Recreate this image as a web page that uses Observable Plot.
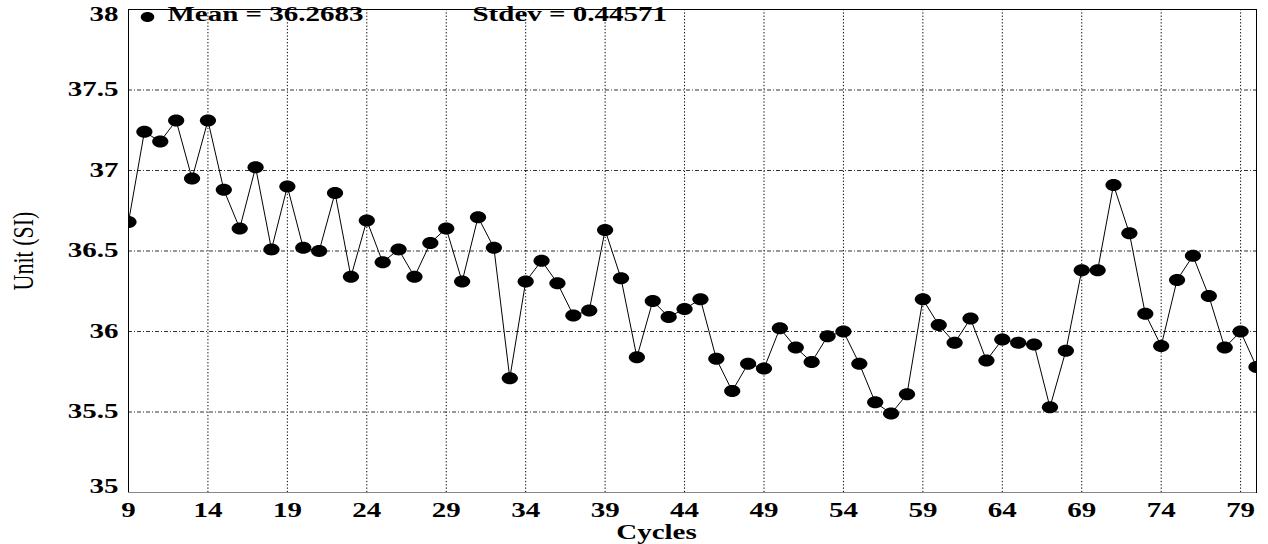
<!DOCTYPE html>
<html>
<head>
<meta charset="utf-8">
<script src="https://cdn.jsdelivr.net/npm/d3@7"></script>
<script src="https://cdn.jsdelivr.net/npm/@observablehq/plot@0.6"></script>
<style>
  html, body { margin: 0; padding: 0; background: white; }
</style>
</head>
<body>
<div id="chart"></div>
<script>
const cycles = [9,10,11,12,13,14,15,16,17,18,19,20,21,22,23,24,25,26,27,28,29,30,31,32,33,34,35,36,37,38,39,40,41,42,43,44,45,46,47,48,49,50,51,52,53,54,55,56,57,58,59,60,61,62,63,64,65,66,67,68,69,70,71,72,73,74,75,76,77,78,79,80];
const values = [36.68,37.24,37.18,37.31,36.95,37.31,36.88,36.64,37.02,36.51,
  36.90,36.52,36.50,36.86,36.34,36.69,36.43,36.51,36.34,36.55,
  36.64,36.31,36.71,36.52,35.71,36.31,36.44,36.30,36.10,36.13,
  36.63,36.33,35.84,36.19,36.09,36.14,36.20,35.83,35.63,35.80,
  35.77,36.02,35.90,35.81,35.97,36.00,35.80,35.56,35.49,35.61,
  36.20,36.04,35.93,36.08,35.82,35.95,35.93,35.92,35.53,35.88,
  36.38,36.38,36.91,36.61,36.11,35.91,36.32,36.47,36.22,35.90,
  36.00,35.78];
const xTicks = [9,14,19,24,29,34,39,44,49,54,59,64,69,74,79];
const yTicks = [35,35.5,36,36.5,37,37.5,38];
const yTicksInner = [35.5,36,36.5,37,37.5];
const legendLabels = ["Mean = 36.2683", "Stdev = 0.44571"];
const xLabel = ["Cycles"];
const yLabel = ["Unit (SI)"];

const data = cycles.map((c, i) => ({cycle: c, value: values[i]}));

const ellipse = {
  draw(context, size) {
    const r = Math.sqrt(size / Math.PI);
    const rx = r * 1.35, ry = r, k = 0.5523;
    context.moveTo(rx, 0);
    context.bezierCurveTo(rx, ry * k, rx * k, ry, 0, ry);
    context.bezierCurveTo(-rx * k, ry, -rx, ry * k, -rx, 0);
    context.bezierCurveTo(-rx, -ry * k, -rx * k, -ry, 0, -ry);
    context.bezierCurveTo(rx * k, -ry, rx, -ry * k, rx, 0);
    context.closePath();
  }
};

const fmt = d => `${d}`;
const axisOpts = {tickSize: 0, tickPadding: 10, label: null, tickFormat: fmt};

const chart = Plot.plot({
  width: 1268,
  height: 544,
  marginLeft: 128,
  marginRight: 12,
  marginTop: 9,
  marginBottom: 52,
  style: {fontFamily: "Liberation Serif", fontSize: "20px", fontWeight: "bold", background: "white", color: "black"},
  x: {domain: [9, 80], label: null},
  y: {domain: [35, 38], label: null},
  marks: [
    Plot.gridX(xTicks, {stroke: "#000", strokeOpacity: 1, strokeDasharray: "1.3,2"}),
    Plot.gridY(yTicks, {stroke: "#333", strokeOpacity: 1, strokeDasharray: "4,2,1,2"}),
    Plot.frame({stroke: "black"}),
    Plot.ruleY([35], {stroke: "#888", strokeWidth: 1.2}),
    Plot.axisX(xTicks, {...axisOpts}),
    Plot.axisY(yTicksInner, {...axisOpts}),
    Plot.axisY([38], {...axisOpts, dy: 5}),
    Plot.axisY([35], {...axisOpts, dy: -6}),
    Plot.line(data, {x: "cycle", y: "value", stroke: "black", strokeWidth: 1, clip: true}),
    Plot.dot(data, {x: "cycle", y: "value", r: 6, symbol: ellipse, fill: "black", stroke: "none", clip: true}),
    Plot.dot([legendLabels[0]], {frameAnchor: "top-left", dx: 19, dy: 7.5, r: 5, symbol: ellipse, fill: "black", stroke: "none"}),
    Plot.text([legendLabels[0]], {frameAnchor: "top-left", dx: 39, dy: 5, text: d => d, textAnchor: "start", lineAnchor: "middle", fontSize: 20, fontWeight: "bold"}),
    Plot.text([legendLabels[1]], {frameAnchor: "top-left", dx: 344, dy: 5, text: d => d, textAnchor: "start", lineAnchor: "middle", fontSize: 20, fontWeight: "bold"}),
    Plot.text(xLabel, {frameAnchor: "bottom", dx: -36, dy: 40, text: d => d, textAnchor: "middle", lineAnchor: "middle", fontSize: 20, fontWeight: "bold"}),
    Plot.text(yLabel, {frameAnchor: "left", dx: -105, text: d => d, rotate: -90, textAnchor: "middle", lineAnchor: "middle", fontSize: 22, fontWeight: "normal"})
  ]
});

// widen the serif glyphs horizontally, as in the reference
const SX = 1.45;
d3.select(chart).selectAll("text").each(function () {
  const t = d3.select(this);
  const tr = t.attr("transform");
  if (tr && tr.includes("rotate")) {
    t.attr("transform", tr + ` scale(1,1.3)`);
    return;
  }
  if (tr) {
    t.attr("transform", tr + ` scale(${SX},1)`);
  } else {
    const x = +(t.attr("x") || 0), y = +(t.attr("y") || 0);
    t.attr("x", null).attr("y", null).attr("transform", `translate(${x},${y}) scale(${SX},1)`);
  }
});

document.getElementById("chart").appendChild(chart);
</script>
</body>
</html>
